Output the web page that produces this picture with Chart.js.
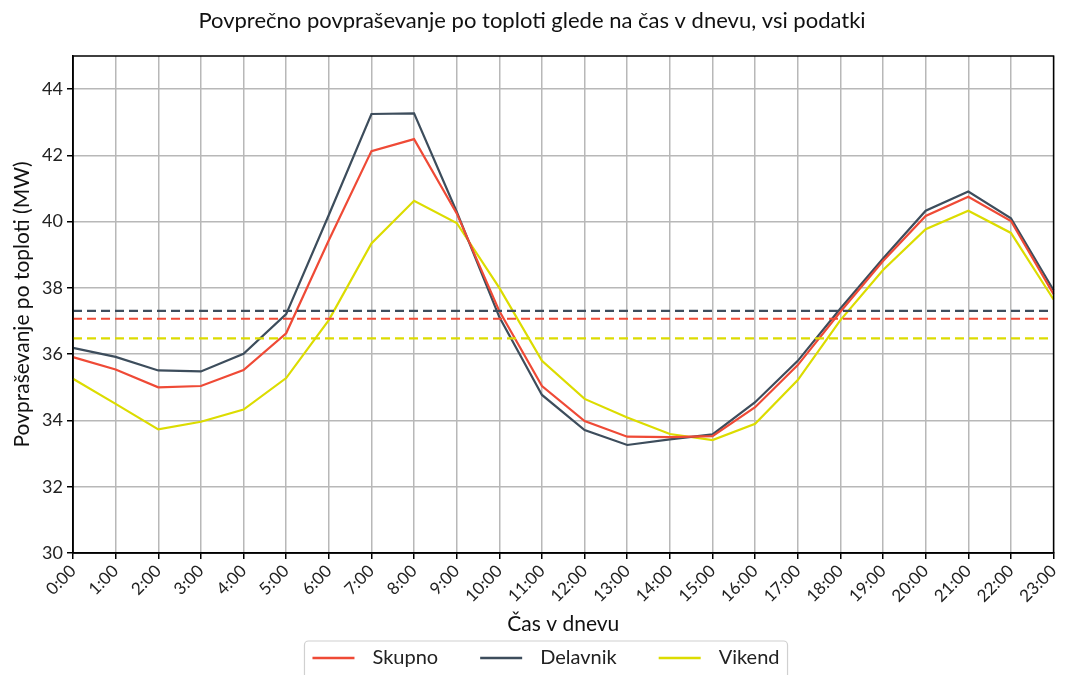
<!DOCTYPE html>
<html>
<head>
<meta charset="utf-8">
<script src="https://cdn.jsdelivr.net/npm/chart.js@4/dist/chart.umd.min.js"></script>
<style>
html,body{margin:0;padding:0;background:#fff;}
#wrap{width:1070px;height:675px;position:relative;}
</style>
</head>
<body>
<div id="wrap"><canvas id="c" width="1070" height="675"></canvas></div>
<script>
const hours = ['0:00','1:00','2:00','3:00','4:00','5:00','6:00','7:00','8:00','9:00','10:00','11:00','12:00','13:00','14:00','15:00','16:00','17:00','18:00','19:00','20:00','21:00','22:00','23:00'];
const skupno = [35.91,35.54,35.00,35.04,35.52,36.63,39.44,42.13,42.49,40.25,37.30,35.04,33.98,33.51,33.50,33.53,34.40,35.67,37.28,38.81,40.17,40.75,40.02,37.81];
const delavnik = [36.19,35.92,35.51,35.48,36.01,37.21,40.20,43.25,43.27,40.30,37.12,34.77,33.71,33.26,33.43,33.58,34.55,35.80,37.38,38.89,40.33,40.91,40.10,37.93];
const vikend = [35.26,34.50,33.73,33.96,34.33,35.28,37.03,39.34,40.63,39.96,38.00,35.80,34.65,34.09,33.59,33.41,33.90,35.22,37.03,38.54,39.77,40.33,39.66,37.65];
const seriesNames = ['Skupno','Delavnik','Vikend'];
const means = [37.07, 37.31, 36.48];
const yTicks = [30,32,34,36,38,40,42,44];

const colors = ['#ef4a36','#3d4d5c','#dcdc00'];
const FONT = 'Lato, "Noto Sans", sans-serif';
const series = [skupno, delavnik, vikend];

const datasets = [];
series.forEach((d,i)=>{
  datasets.push({
    label: seriesNames[i], data: d, borderColor: colors[i], backgroundColor: colors[i],
    borderWidth: 2.2, pointRadius: 0, tension: 0, fill: false, order: 2
  });
});
means.forEach((m,i)=>{
  datasets.push({
    label: seriesNames[i] + ' povprečje', isMean: true,
    data: [{x: hours[0], y: m}, {x: hours[hours.length-1], y: m}],
    borderColor: colors[i], backgroundColor: colors[i],
    borderWidth: 2.2, borderDash: [9,5], pointRadius: 0, fill: false, order: 1
  });
});

const frame = {
  id: 'frame',
  afterDatasetsDraw(chart){
    const a = chart.chartArea, ctx = chart.ctx;
    ctx.save();
    ctx.strokeStyle = '#000'; ctx.lineWidth = 1.5;
    ctx.strokeRect(a.left, a.top, a.right - a.left, a.bottom - a.top);
    ctx.restore();
  }
};

const customLegend = {
  id: 'customLegend',
  afterDraw(chart){
    const ctx = chart.ctx;
    const items = chart.data.datasets.filter(d => !d.isMean);
    ctx.save();
    ctx.font = '20px ' + FONT;
    const lineW = 42, gapText = 18, gapItem = 42, pad = 8;
    const widths = items.map(d => ctx.measureText(d.label).width);
    const total = pad*2 + widths.reduce((s,w)=>s + lineW + gapText + w, 0) + gapItem*(items.length-1);
    const cx = 546, top = 641, cy = 658;
    let x = cx - total/2;
    // box
    const l = x, r = x + total, rad = 4;
    ctx.strokeStyle = '#d0d0d0'; ctx.lineWidth = 1.2;
    ctx.beginPath();
    ctx.moveTo(l, 680); ctx.lineTo(l, top+rad); ctx.arcTo(l, top, l+rad, top, rad);
    ctx.lineTo(r-rad, top); ctx.arcTo(r, top, r, top+rad, rad); ctx.lineTo(r, 680);
    ctx.stroke();
    x += pad;
    ctx.textBaseline = 'middle'; ctx.textAlign = 'left';
    items.forEach((d,i)=>{
      ctx.strokeStyle = d.borderColor; ctx.lineWidth = 2.4;
      ctx.beginPath(); ctx.moveTo(x, cy); ctx.lineTo(x + lineW, cy); ctx.stroke();
      x += lineW + gapText;
      ctx.fillStyle = '#222';
      ctx.fillText(d.label, x, cy);
      x += widths[i] + gapItem;
    });
    ctx.restore();
  }
};

new Chart(document.getElementById('c'), {
  type: 'line',
  data: { labels: hours, datasets },
  plugins: [frame, customLegend],
  options: {
    responsive: false, animation: false, devicePixelRatio: 1,
    layout: { padding: { left: 10, right: 16, top: 0, bottom: 38 } },
    plugins: {
      tooltip: { enabled: false },
      legend: { display: false },
      title: {
        display: true, text: 'Povprečno povpraševanje po toploti glede na čas v dnevu, vsi podatki',
        color: '#111', font: { family: FONT, size: 22, weight: 'normal' },
        padding: { top: 8, bottom: 21.6 }
      }
    },
    scales: {
      x: {
        type: 'category', offset: false,
        grid: { color: '#b8b8b8', lineWidth: 1.5, tickColor: '#000', tickLength: 6, offset: false },
        border: { color: '#000', width: 1.5 },
        ticks: { color: '#222', font: { family: FONT, size: 17 }, maxRotation: 45, minRotation: 45, autoSkip: false, padding: 2 },
        title: { display: true, text: 'Čas v dnevu', color: '#111', font: { family: FONT, size: 21 }, padding: { top: 0, bottom: 0 } },
        afterFit(scale){ scale.height = 675 - 38 - 553; }
      },
      y: {
        min: 30, max: 45,
        afterBuildTicks(scale){ scale.ticks = yTicks.map(v => ({ value: v })); },
        grid: { color: '#b8b8b8', lineWidth: 1.5, tickColor: '#000', tickLength: 6 },
        border: { color: '#000', width: 1.5 },
        ticks: { color: '#222', font: { family: FONT, size: 18 }, padding: 4 },
        title: { display: true, text: 'Povpraševanje po toploti (MW)', color: '#111', font: { family: FONT, size: 21 }, padding: { top: 0, bottom: 4 } },
        afterFit(scale){ scale.width = 63; }
      }
    }
  }
});
</script>
</body>
</html>
